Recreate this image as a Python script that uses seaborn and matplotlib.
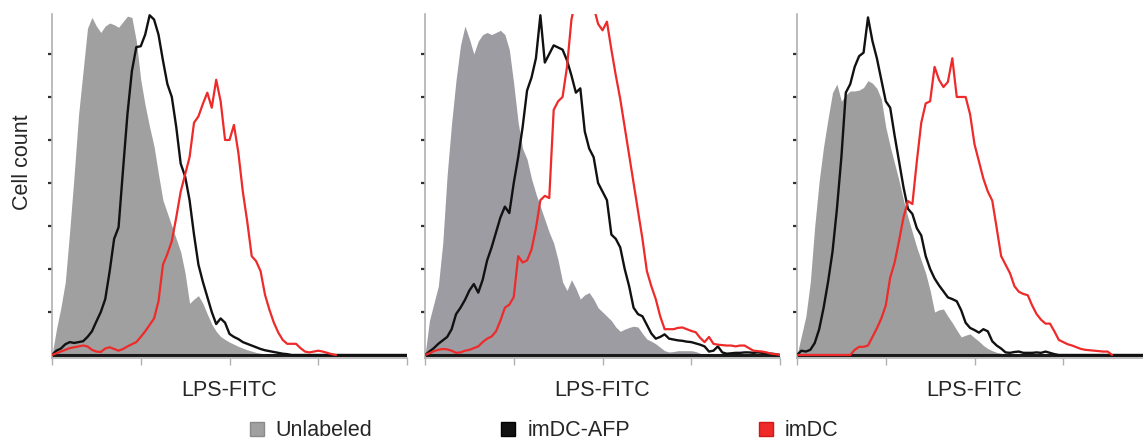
import numpy as np
import matplotlib
matplotlib.use("Agg")
import matplotlib.pyplot as plt
import seaborn as sns
from matplotlib.patches import Patch

sns.set_style("white")
plt.rcParams['font.family'] = ['Liberation Sans', 'DejaVu Sans']

# fluorescence channels (log decades 0..4), one reading every 0.05
GRID = np.round(np.arange(0, 4.0001, 0.05), 2)

SERIES = ['Unlabeled', 'imDC-AFP', 'imDC']
XLABEL = 'LPS-FITC'
YLABEL = 'Cell count'

# panel 1
p1_unlabeled = [0, 0.6, 1.1, 1.7, 2.9, 4.2, 5.6, 6.6, 7.6, 7.85,
                7.65, 7.5, 7.65, 7.72, 7.68, 7.62, 7.75, 7.88, 7.85, 7.3,
                6.4, 5.8, 5.3, 4.85, 4.2, 3.6, 3.3, 3.0, 2.7, 2.4,
                1.9, 1.2, 1.3, 1.38, 1.2, 0.95, 0.72, 0.55, 0.43, 0.36,
                0.3, 0.25, 0.2, 0.16, 0.12, 0.09, 0.06, 0.04, 0.01, 0]
p1_afp = [0, 0.1, 0.15, 0.25, 0.3, 0.28, 0.3, 0.32, 0.42, 0.55,
          0.78, 1.0, 1.3, 1.95, 2.7, 2.97, 4.3, 5.6, 6.6, 7.16,
          7.18, 7.45, 7.9, 7.8, 7.45, 6.85, 6.3, 6.0, 5.3, 4.45,
          4.15, 3.6, 2.8, 2.1, 1.7, 1.35, 1.0, 0.72, 0.85, 0.75,
          0.49, 0.42, 0.37, 0.3, 0.26, 0.22, 0.18, 0.14, 0.11, 0.09,
          0.07, 0.05, 0.03, 0.02, 0, 0, 0, 0, 0, 0,
          0, 0, 0, 0, 0, 0, 0, 0, 0, 0,
          0, 0, 0, 0, 0, 0, 0, 0, 0, 0, 0]
p1_imdc = [0, 0.04, 0.08, 0.12, 0.16, 0.18, 0.2, 0.22, 0.2, 0.12,
           0.08, 0.07, 0.15, 0.18, 0.14, 0.1, 0.14, 0.2, 0.25, 0.3,
           0.42, 0.55, 0.7, 0.85, 1.25, 2.1, 2.35, 2.65, 3.2, 3.8,
           4.2, 4.6, 5.4, 5.55, 5.84, 6.1, 5.75, 6.4, 5.9, 5.0,
           5.0, 5.35, 4.7, 3.8, 3.1, 2.3, 2.18, 1.95, 1.4, 1.05,
           0.75, 0.52, 0.35, 0.26, 0.26, 0.26, 0.16, 0.08, 0.06, 0.08,
           0.1, 0.08, 0.05, 0.02, 0]

# panel 2
p2_unlabeled = [0, 0.8, 1.2, 1.6, 2.6, 4.2, 5.4, 6.4, 7.2, 7.65,
                7.35, 7.0, 7.3, 7.45, 7.5, 7.45, 7.5, 7.55, 7.45, 7.1,
                6.3, 5.4, 4.8, 4.55, 4.1, 3.75, 3.45, 3.15, 2.85, 2.6,
                2.2, 1.7, 1.5, 1.75, 1.55, 1.3, 1.4, 1.45, 1.3, 1.1,
                1.0, 0.9, 0.8, 0.65, 0.55, 0.6, 0.64, 0.67, 0.65, 0.5,
                0.37, 0.32, 0.26, 0.18, 0.1, 0.07, 0.08, 0.1, 0.1, 0.1,
                0.1, 0.08, 0.04, 0]
p2_afp = [0, 0.08, 0.16, 0.26, 0.34, 0.42, 0.6, 0.95, 1.1, 1.28,
          1.5, 1.65, 1.45, 1.75, 2.2, 2.5, 2.85, 3.2, 3.45, 3.3,
          4.0, 4.6, 5.3, 6.15, 6.45, 6.9, 7.9, 6.8, 7.0, 7.2,
          7.15, 7.1, 6.85, 6.5, 6.1, 6.2, 5.2, 4.8, 4.6, 4.0,
          3.8, 3.6, 2.8, 2.7, 2.5, 2.0, 1.6, 1.1, 0.95, 0.9,
          0.7, 0.5, 0.38, 0.42, 0.48, 0.38, 0.36, 0.34, 0.33, 0.31,
          0.3, 0.27, 0.24, 0.2, 0.08, 0.1, 0.2, 0.06, 0.03, 0.04,
          0.05, 0.05, 0.06, 0.06, 0.05, 0.06, 0.05, 0.04, 0.03, 0.02, 0]
p2_imdc = [0, 0.04, 0.09, 0.12, 0.14, 0.13, 0.1, 0.05, 0.06, 0.1,
           0.12, 0.16, 0.2, 0.3, 0.38, 0.43, 0.55, 0.8, 1.1, 1.17,
           1.35, 2.3, 2.15, 2.2, 2.45, 2.95, 3.6, 3.7, 3.65, 5.7,
           5.9, 6.0, 6.7, 7.8, 8.3, 8.5, 8.6, 8.4, 8.1, 7.7,
           7.55, 7.75, 7.1, 6.5, 5.95, 5.3, 4.65, 4.0, 3.35, 2.7,
           1.95, 1.6, 1.3, 0.9, 0.6, 0.6, 0.6, 0.63, 0.64, 0.6,
           0.56, 0.53, 0.4, 0.3, 0.42, 0.26, 0.24, 0.23, 0.22, 0.22,
           0.2, 0.22, 0.22, 0.16, 0.1, 0.09, 0.08, 0.06, 0.03, 0.02, 0]

# panel 3
p3_unlabeled = [0, 0.45, 0.9, 1.7, 3.0, 4.05, 4.85, 5.5, 6.1, 6.3,
                5.9, 6.05, 6.14, 6.14, 6.16, 6.22, 6.38, 6.32, 6.2, 5.95,
                5.3, 4.85, 4.45, 4.05, 3.6, 3.2, 2.85, 2.5, 2.2, 1.9,
                1.5, 1.0, 1.05, 1.07, 0.9, 0.75, 0.58, 0.42, 0.46, 0.49,
                0.4, 0.32, 0.22, 0.15, 0.1, 0.06, 0.04, 0.02, 0]
p3_afp = [0, 0.1, 0.08, 0.12, 0.28, 0.6, 1.1, 1.7, 2.4, 3.4,
          4.6, 6.1, 6.3, 6.7, 6.95, 7.03, 7.85, 7.3, 6.9, 6.4,
          5.9, 5.75, 5.1, 4.5, 3.9, 3.4, 3.28, 2.95, 2.78, 2.3,
          2.0, 1.78, 1.62, 1.48, 1.34, 1.3, 1.25, 1.04, 0.75, 0.63,
          0.58, 0.52, 0.6, 0.55, 0.32, 0.22, 0.15, 0.06, 0.05, 0.07,
          0.08, 0.05, 0.05, 0.05, 0.06, 0.05, 0.08, 0.05, 0.02, 0,
          0, 0, 0, 0, 0, 0, 0, 0, 0, 0,
          0, 0, 0, 0, 0, 0, 0, 0, 0, 0, 0]
p3_imdc = [0, 0, 0, 0, 0, 0, 0, 0, 0, 0,
           0, 0, 0, 0.12, 0.19, 0.19, 0.22, 0.42, 0.62, 0.85,
           1.15, 1.8, 2.15, 2.66, 3.2, 3.58, 3.51, 4.5, 5.4, 5.85,
           5.9, 6.7, 6.4, 6.23, 6.35, 6.9, 6.0, 6.0, 6.0, 5.6,
           4.9, 4.5, 4.1, 3.8, 3.59, 2.95, 2.3, 2.1, 1.9, 1.6,
           1.47, 1.42, 1.39, 1.15, 0.95, 0.82, 0.73, 0.73, 0.55, 0.35,
           0.3, 0.25, 0.22, 0.18, 0.14, 0.12, 0.11, 0.1, 0.09, 0.08,
           0.08, 0]

panels = [(p1_unlabeled, p1_afp, p1_imdc),
          (p2_unlabeled, p2_afp, p2_imdc),
          (p3_unlabeled, p3_afp, p3_imdc)]

# the three scans were printed with slightly different greys
grays = ['#a0a0a0', '#9d9ca3', '#9e9e9e']
BLACK = '#111111'
RED = '#ee2a2a'
SPINE = '#b0b0b0'

fig = plt.figure(figsize=(11.43, 4.42), dpi=100)
lefts = [52 / 1143, 425 / 1143, 797 / 1143]

for left, gray, (unl, afp, imdc) in zip(lefts, grays, panels):
    ax = fig.add_axes([left, 0.191, 0.3106, 0.7774])
    x = GRID[:len(unl)]
    ax.fill_between(x, unl, color=gray, lw=0, zorder=1)
    ax.axhline(0, color='#1a1a1a', lw=2.2, zorder=1.5)
    sns.lineplot(x=GRID[:len(afp)], y=afp, color=BLACK, lw=1.7, ax=ax, zorder=3)
    sns.lineplot(x=GRID[:len(imdc)], y=imdc, color=RED, lw=1.6, ax=ax, zorder=4)

    ax.set_xlim(0, 4)
    ax.set_ylim(-0.06, 7.93)
    ax.set_xticks(range(0, 5))
    ax.set_yticks(range(1, 8))
    ax.set_xticklabels([])
    ax.set_yticklabels([])
    ax.set_xlabel('')
    ax.set_ylabel('')
    ax.tick_params(axis='x', which='both', bottom=True, direction='out',
                   length=5, width=1, color=SPINE)
    ax.tick_params(axis='y', which='both', left=True, direction='out',
                   length=3, width=1.6, color='#333333')
    for side in ['top', 'right']:
        ax.spines[side].set_visible(False)
    for side in ['left', 'bottom']:
        ax.spines[side].set_color(SPINE)
        ax.spines[side].set_linewidth(1.2)
    ax.patch.set_alpha(0)

    fig.text(left + 0.3106 / 2, 1 - 390 / 442, XLABEL, ha='center', va='center',
             fontsize=15.5)

fig.text(22.5 / 1143, 1 - 162 / 442, YLABEL, rotation=90, ha='center', va='center',
         fontsize=15.5)

handles = [Patch(facecolor='#a0a0a0', edgecolor='#8a8a8a'),
           Patch(facecolor=BLACK, edgecolor='#000000'),
           Patch(facecolor=RED, edgecolor='#d01818')]
fig.legend(handles, SERIES, loc='center', bbox_to_anchor=(0.476, 1 - 431 / 442),
           ncol=3, frameon=False, fontsize=15.5, handlelength=0.65, handleheight=0.65,
           handletextpad=0.55, columnspacing=6.0, borderaxespad=0, borderpad=0)

fig.savefig('out.png', dpi=100)
